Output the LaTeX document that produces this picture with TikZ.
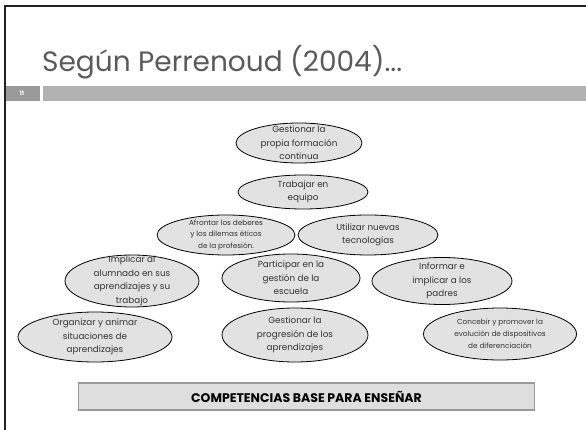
\documentclass[tikz,border=0pt]{standalone}
\usepackage{fontspec}
\setmainfont{Poppins}
\usetikzlibrary{shapes.geometric}
\definecolor{framecol}{HTML}{222222}
\definecolor{numbox}{HTML}{9A9A9A}
\definecolor{barcol}{HTML}{B2B2B2}
\definecolor{titlecol}{HTML}{5A5A5A}
\definecolor{bubble}{HTML}{E2E2E2}
\definecolor{inktext}{HTML}{333333}
\definecolor{basebox}{HTML}{DEDEDE}
\definecolor{baseedge}{HTML}{999999}
\tikzset{
  compshape/.style={ellipse, draw=black, line width=0.8pt, fill=bubble, inner sep=0pt},
  comptext/.style={align=center, text=inktext, inner sep=0pt, font=\fontsize{8.8}{13.5}\selectfont},
  smalltext/.style={comptext, font=\fontsize{7.3}{11.8}\selectfont},
}
% one competence: name, centre, width, height, text style, text
\newcommand\competence[6]{%
  \node[compshape, minimum width=#3, minimum height=#4] (#1) at (#2) {};
  \node[#5] (#1-t) at (#1.center) {#6};
}
\begin{document}
\begin{tikzpicture}[x=1pt,y=-1pt]
\useasboundingbox (0,0) rectangle (586,430);
\fill[white] (0,0) rectangle (586,430);
% slide frame (top and left edges)
\draw[framecol, line width=2pt] (5,430) -- (5,6.5) -- (586,6.5);
% title
\node[anchor=base west, inner sep=0pt, text=titlecol, font=\fontsize{28}{30}\selectfont] (title) at (42,72) {Según Perrenoud (2004)...};
% slide number strip
\fill[numbox] (6,86) rectangle (40,101);
\node[text=white, font=\fontsize{6}{7}\selectfont\bfseries, inner sep=0pt] (num) at (22,93.5) {11};
\fill[barcol] (43,86) rectangle (586,101);
% competences
\competence{c1}{299,143}{126pt}{40pt}{comptext}{Gestionar la\\propia formación\\continua}
\competence{c2}{303,192}{130pt}{34pt}{comptext}{Trabajar en\\equipo}
\competence{c3}{226,235}{138pt}{40pt}{smalltext}{Afrontar los deberes\\y los dilemas éticos\\de la profesión.}
\competence{c4}{368,235}{140pt}{40pt}{comptext}{Utilizar nuevas\\tecnologías}
\competence{c5}{132,281}{134pt}{52pt}{comptext}{Implicar al\\alumnado en sus\\aprendizajes y su\\trabajo}
\competence{c6}{291,278}{138pt}{48pt}{comptext}{Participar en la\\gestión de la\\escuela}
\competence{c7}{442,281}{140pt}{47pt}{comptext}{Informar e\\implicar a los\\padres}
\competence{c8}{95,337}{154pt}{50pt}{comptext}{Organizar y animar\\situaciones de\\aprendizajes}
\competence{c9}{295,335}{146pt}{54pt}{comptext}{Gestionar la\\progresión de los\\aprendizajes}
\competence{c10}{500,334}{153pt}{52pt}{smalltext}{Concebir y promover la\\evolución de dispositivos\\de diferenciación}
% base label
\node[draw=baseedge, line width=1.5pt, fill=basebox, minimum width=456pt, minimum height=27pt, inner sep=0pt,
      font=\fontsize{12.5}{14}\selectfont\bfseries, text=black] (base) at (306.5,396.5) {COMPETENCIAS BASE PARA ENSEÑAR};
\end{tikzpicture}
\end{document}
